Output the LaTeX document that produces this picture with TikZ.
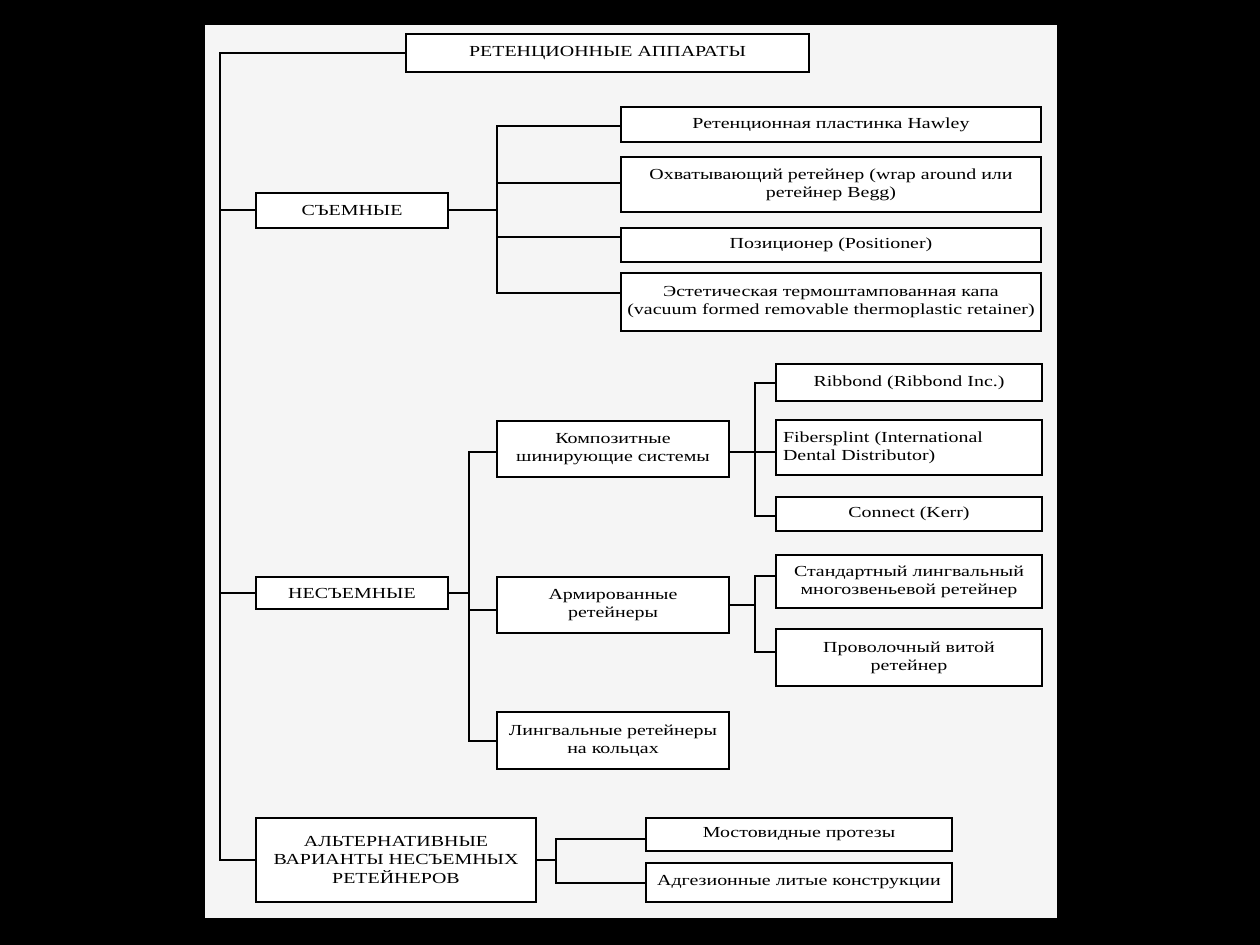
\documentclass[tikz,border=0pt]{standalone}
\usepackage{fontspec}
\setmainfont{Liberation Serif}[FakeStretch=1.3]
\begin{document}
\begin{tikzpicture}[x=0.75pt,y=-0.75pt,
  box/.style={draw=black,fill=white,line width=1.5pt,inner sep=2pt,align=center,
    font=\fontsize{11.5}{13.6}\selectfont},
  conn/.style={draw=black,line width=1.5pt}]
\useasboundingbox (0,0) rectangle (1260,945);
\fill[black] (0,0) rectangle (1260,945);
\fill[gray!8!white] (205,25) rectangle (1057,918);
% nodes
\node[box,minimum width=403*0.75pt,minimum height=38*0.75pt] (root) at (607.5,53) {РЕТЕНЦИОННЫЕ АППАРАТЫ};
\node[box,minimum width=192*0.75pt,minimum height=35*0.75pt] (s) at (352,210.5) {СЪЕМНЫЕ};
\node[box,minimum width=420*0.75pt,minimum height=35*0.75pt] (h1) at (831,124.5) {Ретенционная пластинка Hawley};
\node[box,minimum width=420*0.75pt,minimum height=55*0.75pt] (h2) at (831,184.5) {Охватывающий ретейнер (wrap around или\\ретейнер Begg)};
\node[box,minimum width=420*0.75pt,minimum height=34*0.75pt] (h3) at (831,245) {Позиционер (Positioner)};
\node[box,minimum width=420*0.75pt,minimum height=58*0.75pt] (h4) at (831,302) {Эстетическая термоштампованная капа\\(vacuum formed removable thermoplastic retainer)};
\node[box,minimum width=192*0.75pt,minimum height=32*0.75pt] (n) at (352,593) {НЕСЪЕМНЫЕ};
\node[box,minimum width=232*0.75pt,minimum height=56*0.75pt] (k) at (613,449) {Композитные\\шинирующие системы};
\node[box,minimum width=266*0.75pt,minimum height=37*0.75pt] (k1) at (909,382.5) {Ribbond (Ribbond Inc.)};
\node[box,minimum width=266*0.75pt,minimum height=55*0.75pt,align=left,text width=252*0.75pt] (k2) at (909,447.5) {Fibersplint (International\\Dental Distributor)};
\node[box,minimum width=266*0.75pt,minimum height=34*0.75pt] (k3) at (909,514) {Connect (Kerr)};
\node[box,minimum width=232*0.75pt,minimum height=56*0.75pt] (a) at (613,605) {Армированные\\ретейнеры};
\node[box,minimum width=266*0.75pt,minimum height=53*0.75pt] (a1) at (909,581.5) {Стандартный лингвальный\\многозвеньевой ретейнер};
\node[box,minimum width=266*0.75pt,minimum height=57*0.75pt] (a2) at (909,657.5) {Проволочный витой\\ретейнер};
\node[box,minimum width=232*0.75pt,minimum height=57*0.75pt] (l) at (613,740.5) {Лингвальные ретейнеры\\на кольцах};
\node[box,minimum width=280*0.75pt,minimum height=84*0.75pt] (alt) at (396,860) {АЛЬТЕРНАТИВНЫЕ\\ВАРИАНТЫ НЕСЪЕМНЫХ\\РЕТЕЙНЕРОВ};
\node[box,minimum width=306*0.75pt,minimum height=33*0.75pt] (m1) at (799,834.5) {Мостовидные протезы};
\node[box,minimum width=306*0.75pt,minimum height=39*0.75pt] (m2) at (799,882.5) {Адгезионные литые конструкции};
% junction columns
\coordinate (tr) at (220,0);
\coordinate (sv) at (497,0);
\coordinate (nv) at (469,0);
\coordinate (kv) at (755,0);
\coordinate (mv) at (556,0);
% trunk
\draw[conn] (root.west) -- (tr|-root.west) -- (tr|-alt.west) -- (alt.west);
\draw[conn] (tr|-s.west) -- (s.west);
\draw[conn] (tr|-n.west) -- (n.west);
% removable
\foreach \c/\d in {h1/-1,h2/1,h3/6,h4/6.75} \draw[conn] (s.east) -- (sv|-s.east) |- ([yshift=\d pt]\c.west);
% fixed
\foreach \c/\d in {k/-2.25,a/-3.75,l/0} \draw[conn] (n.east) -- (nv|-n.east) |- ([yshift=\d pt]\c.west);
\foreach \c/\d in {k1/0,k2/-3,k3/-1.5} \draw[conn] ([yshift=-2.25pt]k.east) -- ([yshift=-2.25pt]kv|-k.east) |- ([yshift=\d pt]\c.west);
\foreach \c/\d in {a1/4,a2/4} \draw[conn] (a.east) -- (kv|-a.east) |- ([yshift=\d pt]\c.west);
% alternatives
\foreach \c/\d in {m1/-3.4,m2/0} \draw[conn] (alt.east) -- (mv|-alt.east) |- ([yshift=\d pt]\c.west);
\end{tikzpicture}
\end{document}
